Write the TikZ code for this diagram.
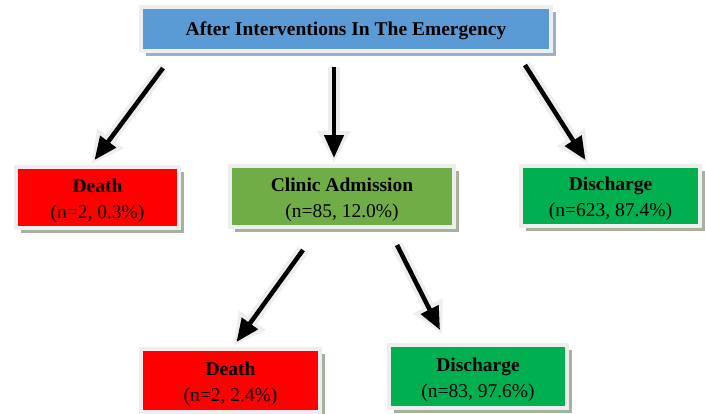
\documentclass[tikz,border=0pt]{standalone}
\usepackage{fontspec}
\setmainfont{Liberation Serif}
\usetikzlibrary{arrows.meta, shadows, positioning}
\definecolor{topblue}{HTML}{5B9BD5}
\definecolor{deathred}{HTML}{FF0000}
\definecolor{clinicgreen}{HTML}{70AD47}
\definecolor{dischgreen}{HTML}{00B050}
\definecolor{frame}{HTML}{EEEEEE}
\definecolor{boxshadow}{HTML}{A8B19E}
\definecolor{blueshadow}{HTML}{9CB0C9}
\newcommand{\boxstrut}{\rule{0pt}{20pt}}

\begin{document}
\begin{tikzpicture}[x=1pt,y=-1pt,
    box/.style={draw=frame, line width=4pt, outer sep=0pt, inner sep=0pt,
        align=center, font=\fontsize{19.5}{26}\selectfont,
        drop shadow={shadow xshift=5pt, shadow yshift=-5pt, fill=boxshadow, opacity=1}},
    arr/.style={line width=4.5pt, -{Triangle[length=23pt,width=19pt]},
        preaction={draw=frame, line width=12pt, shorten >=-5pt,
            -{Triangle[length=32pt,width=31pt]}}}]
    \useasboundingbox (0,0) rectangle (705,413);
    \node[box, fill=topblue, minimum width=410pt, minimum height=44pt,
        drop shadow={shadow xshift=5pt, shadow yshift=-5pt, fill=blueshadow, opacity=1}]
        (top) at (346,29) {\rule{0pt}{17pt}\textbf{After Interventions In The Emergency}};
    \node[box, fill=deathred, minimum width=163pt, minimum height=61pt]
        (death1) at (97.5,197.5) {\boxstrut\textbf{Death}\\(n=2, 0.3\%)};
    \node[box, fill=clinicgreen, minimum width=224pt, minimum height=61pt]
        (clinic) at (342,196.5) {\boxstrut\textbf{Clinic Admission}\\(n=85, 12.0\%)};
    \node[box, fill=dischgreen, minimum width=179pt, minimum height=60pt]
        (disch1) at (610.5,196) {\boxstrut\textbf{Discharge}\\(n=623, 87.4\%)};
    \node[box, fill=deathred, minimum width=179pt, minimum height=63pt]
        (death2) at (230.5,380.5) {\boxstrut\textbf{Death}\\(n=2, 2.4\%)};
    \node[box, fill=dischgreen, minimum width=178pt, minimum height=63pt]
        (disch2) at (478,376.5) {\boxstrut\textbf{Discharge}\\(n=83, 97.6\%)};
    \draw[arr] ([xshift=22pt,yshift=-17pt]top.south west) -- ([xshift=-3pt,yshift=7pt]death1.north);
    \draw[arr] ([xshift=-12pt,yshift=-16pt]top.south) -- ([xshift=-8pt,yshift=8pt]clinic.north);
    \draw[arr] ([xshift=-26pt,yshift=-14pt]top.south east) -- ([xshift=-25pt,yshift=6pt]disch1.north);
    \draw[arr] ([xshift=-39pt,yshift=-23pt]clinic.south) -- ([xshift=6pt,yshift=7pt]death2.north);
    \draw[arr] ([xshift=55pt,yshift=-18pt]clinic.south) -- ([xshift=-38pt,yshift=15pt]disch2.north);
\end{tikzpicture}
\end{document}
